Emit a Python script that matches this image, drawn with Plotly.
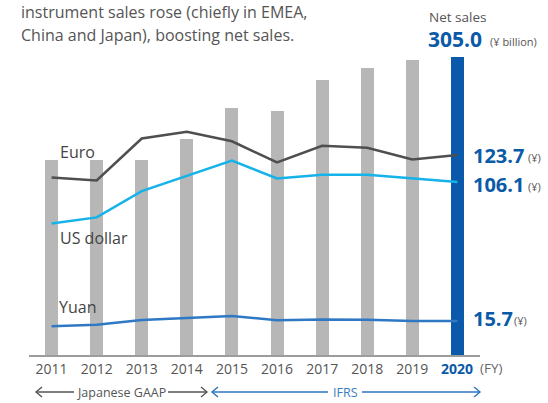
import plotly.graph_objects as go

years = [2011, 2012, 2013, 2014, 2015, 2016, 2017, 2018, 2019, 2020]
net_sales = [200.0, 200.0, 200.0, 221.2, 253.1, 249.9, 281.9, 293.5, 301.9, 305.0]
euro = [109.0, 107.1, 134.4, 138.8, 132.6, 118.8, 129.7, 128.4, 120.8, 123.7]
usd = [79.1, 83.1, 100.2, 109.9, 120.1, 108.4, 110.8, 110.9, 108.7, 106.1]
yuan = [12.3, 13.2, 16.3, 17.8, 19.0, 16.1, 16.7, 16.5, 15.7, 15.7]
tick_labels = [str(y) for y in years]

W, H = 548, 403
L, R, T, B = 29, 480, 40, 355  # plot area in pixels

def px(x):
    return (x - L) / (R - L)

def py(y):
    return (B - y) / (B - T)

GRAY_BAR = "#b6b7b6"
BLUE_BAR = "#0a59ab"
TXT = "#4a4a4a"
BLUE_TXT = "#0a5aa8"
FONT = "Open Sans"

fig = go.Figure()
fig.add_trace(go.Bar(
    x=years, y=net_sales, width=0.29,
    marker=dict(color=[GRAY_BAR] * (len(years) - 1) + [BLUE_BAR], line=dict(width=0)),
    hoverinfo="skip", showlegend=False,
))
fig.add_trace(go.Scatter(x=years, y=euro, yaxis="y2", mode="lines",
                         line=dict(color="#4f4f4f", width=2.5), showlegend=False))
fig.add_trace(go.Scatter(x=years, y=usd, yaxis="y2", mode="lines",
                         line=dict(color="#16b2ea", width=2.5), showlegend=False))
fig.add_trace(go.Scatter(x=years, y=yuan, yaxis="y2", mode="lines",
                         line=dict(color="#2f79c4", width=2.5), showlegend=False))

ann = []
def text(x, y, s, size=14, color=TXT, xanchor="left", bold=False):
    ann.append(dict(x=px(x), y=py(y), xref="paper", yref="paper", text=("<b>%s</b>" % s) if bold else s,
                    showarrow=False, xanchor=xanchor, yanchor="middle",
                    font=dict(family=FONT, size=size, color=color)))

# highlighted last tick label (drawn on the x axis position of the last year)
ann.append(dict(x=years[-1], xref="x", y=py(368), yref="paper", text="<b>%s</b>" % tick_labels[-1],
                showarrow=False, xanchor="center", yanchor="middle",
                font=dict(family=FONT, size=14, color=BLUE_TXT)))
axis_ticktext = tick_labels[:-1] + [""]

# top-left caption
text(19, 12, "instrument sales rose (chiefly in EMEA,", size=16, color="#555555")
text(19, 35, "China and Japan), boosting net sales.", size=16, color="#555555")
# net sales header
text(427, 17, "Net sales", size=13.5, color="#555555")
text(426, 39, "305.0", size=21, color=BLUE_TXT, bold=True)
text(488, 41, "(¥ billion)", size=11, color="#555555")
# series labels
text(58, 152, "Euro", size=16, color="#444444")
text(58, 238, "US dollar", size=16, color="#444444")
text(57, 307, "Yuan", size=16, color="#444444")
# right values
text(471, 155, "123.7", size=20, color=BLUE_TXT, bold=True)
text(526, 157, "(¥)", size=11, color="#555555")
text(471, 184, "106.1", size=20, color=BLUE_TXT, bold=True)
text(526, 186, "(¥)", size=11, color="#555555")
text(471, 318, "15.7", size=20, color=BLUE_TXT, bold=True)
text(512, 320, "(¥)", size=11, color="#555555")
# FY
text(478, 368, "(FY)", size=13.5, color="#666666")
# bottom brackets
text(121, 392, "Japanese GAAP", size=12.5, color="#555555", xanchor="center")
text(345, 392, "IFRS", size=12.5, color="#3a7cc2", xanchor="center")

shapes = []
def seg(x0, x1, y, color):
    shapes.append(dict(type="line", xref="paper", yref="paper", x0=px(x0), x1=px(x1),
                       y0=py(y), y1=py(y), line=dict(color=color, width=1.4)))

def chevron(xtip, y, direction, color):
    d = 6 * direction
    shapes.append(dict(type="path", xref="paper", yref="paper",
                       path="M %f,%f L %f,%f L %f,%f" % (px(xtip - d), py(y - 5), px(xtip), py(y), px(xtip - d), py(y + 5)),
                       line=dict(color=color, width=1.4)))

GA = "#555555"
BA = "#2f74bd"
ay = 392
seg(36, 74, ay, GA); chevron(36, ay, -1, GA)
seg(168, 207, ay, GA); chevron(207, ay, 1, GA)
seg(212, 328, ay, BA); chevron(212, ay, -1, BA)
seg(362, 480, ay, BA); chevron(480, ay, 1, BA)

fig.update_layout(
    width=W, height=H,
    margin=dict(l=L, r=W - R, t=T, b=H - B, pad=0),
    paper_bgcolor="white", plot_bgcolor="white",
    bargap=0,
    xaxis=dict(range=[2010.5, 2020.5], tickmode="array", tickvals=years, ticktext=axis_ticktext,
               showgrid=False, zeroline=False, showline=True, linecolor="#9c9c9c", linewidth=1.5,
               ticks="", tickfont=dict(family=FONT, size=14, color="#555555"), fixedrange=True),
    yaxis=dict(range=[0, 322.4], visible=False, fixedrange=True),
    yaxis2=dict(range=[-6.44, 198.5], overlaying="y", visible=False, fixedrange=True),
    annotations=ann, shapes=shapes,
)
fig.write_html("out.html", config={"displayModeBar": False},
               post_script="document.body.style.margin='0';document.body.style.overflow='hidden';")
